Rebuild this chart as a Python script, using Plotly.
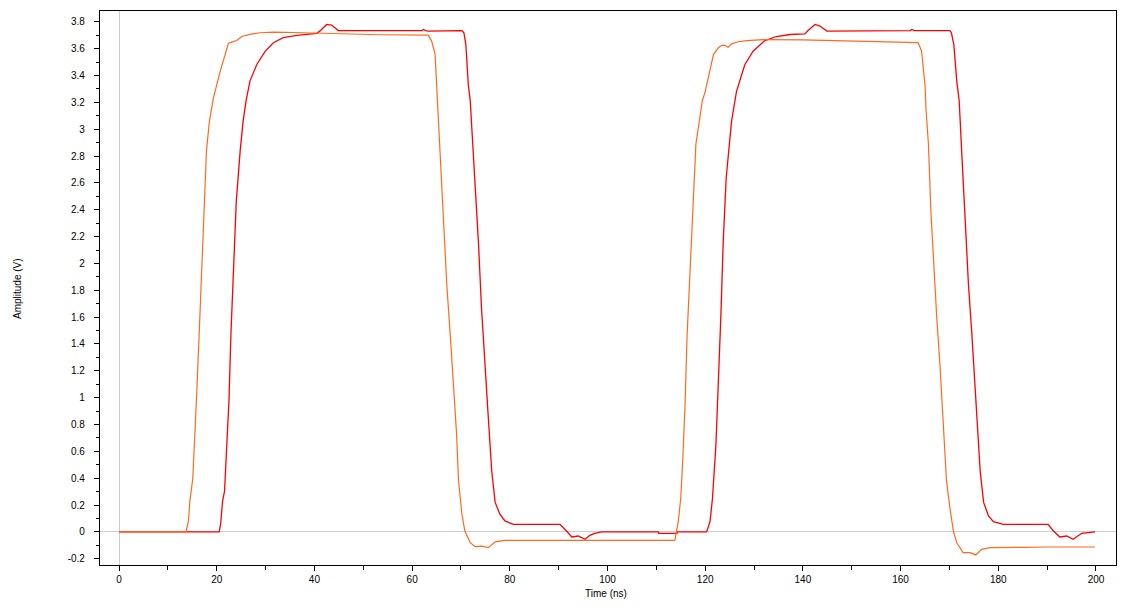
import plotly.graph_objects as go

# Orange trace (leading signal)
orange_t = [0, 13.7, 14.2, 14.5, 15.1, 15.6, 15.9, 16.4, 16.8, 17.3, 17.9, 18.5, 19.3, 20.7, 21.7, 22.4,
            23.2, 24.1, 25.1, 26.8, 28.9, 31.6, 35.7, 40.0, 45.0, 53.4, 63.3, 64.0, 64.7, 65.2, 65.7,
            66.4, 67.1, 67.8, 68.4, 69.1, 69.5, 70.2, 70.8, 71.9, 72.9, 74.2, 75.6, 77.0, 79.0,
            113.8, 114.5, 115.0, 115.4, 115.9, 116.3, 116.9, 117.4, 118.1, 118.8, 119.4, 120.0, 121.0,
            121.7, 122.7, 123.4, 124.0, 124.7, 125.4, 126.8, 128.5, 131.9, 140.0, 151.3, 159.5, 163.6,
            164.3, 165.0, 165.2, 165.7, 166.2, 166.8, 167.4, 168.1, 168.7, 169.4, 170.1, 170.8, 171.5,
            172.8, 174.2, 175.4, 176.6, 178.3, 185.0, 190.0, 199.8]
orange_v = [0, 0, 0.08, 0.23, 0.40, 0.73, 1.03, 1.47, 1.84, 2.34, 2.84, 3.06, 3.23, 3.43, 3.56, 3.64,
            3.65, 3.66, 3.69, 3.706, 3.718, 3.723, 3.72, 3.715, 3.713, 3.703, 3.70, 3.656, 3.557, 3.21, 2.89,
            2.34, 1.84, 1.47, 1.10, 0.73, 0.38, 0.13, 0.007, -0.08, -0.109, -0.105, -0.117, -0.074, -0.062,
            -0.062, 0.08, 0.255, 0.53, 0.975, 1.47, 1.92, 2.34, 2.89, 3.06, 3.21, 3.28, 3.43,
            3.557, 3.606, 3.624, 3.625, 3.61, 3.635, 3.651, 3.66, 3.667, 3.665, 3.656, 3.644, 3.644,
            3.58, 3.33, 3.15, 2.89, 2.39, 1.97, 1.60, 1.22, 0.85, 0.38, 0.18, 0.007, -0.08,
            -0.154, -0.154, -0.171, -0.129, -0.117, -0.115, -0.112, -0.112]

# Red trace (lagging signal)
red_t = [0, 20.5, 20.8, 21.0, 21.2, 21.6, 22.0, 22.5, 22.9, 23.4, 24.0, 24.8, 25.4, 26.0, 26.8, 28.2,
         29.9, 31.6, 33.6, 36.4, 40.5, 41.1, 42.1, 42.5, 43.5, 44.6, 44.9, 62.0, 62.3, 62.8, 63.3, 70.2,
         70.6, 71.0, 71.5, 71.9, 72.7, 73.6, 74.2, 74.9, 75.6, 76.3, 77.0, 78.0, 79.0, 80.7, 90.3,
         91.6, 92.7, 94.0, 95.4, 96.4, 97.4, 98.8, 110.4, 110.5, 114.2, 114.3, 120.3, 121.0, 121.5,
         122.2, 122.7, 123.2, 123.7, 124.3, 125.4, 126.0, 126.4, 128.1, 129.8, 132.2, 134.6, 137.4,
         140.4, 141.1, 142.1, 142.5, 143.5, 144.9, 162.0, 162.3, 162.8, 170.1, 170.4, 170.9, 171.5,
         172.0, 172.5, 173.2, 173.9, 174.6, 175.2, 175.9, 176.3, 177.0, 178.0, 179.0, 181.0, 190.2,
         191.3, 192.6, 194.0, 195.3, 196.4, 197.1, 199.8]
red_v = [0, 0, 0.06, 0.13, 0.23, 0.305, 0.58, 0.975, 1.47, 1.97, 2.46, 2.84, 3.06, 3.21, 3.358, 3.482,
         3.58, 3.644, 3.681, 3.699, 3.714, 3.73, 3.765, 3.78, 3.775, 3.743, 3.734, 3.734, 3.743, 3.734, 3.73, 3.734,
         3.718, 3.63, 3.33, 3.21, 2.71, 2.14, 1.67, 1.22, 0.85, 0.45, 0.22, 0.13, 0.082, 0.057, 0.057,
         0.007, -0.037, -0.03, -0.054, -0.025, -0.01, 0.0, 0.0, -0.01, -0.01, 0.0, 0.0, 0.08, 0.255,
         0.655, 1.10, 1.60, 2.17, 2.64, 3.06, 3.21, 3.28, 3.48, 3.58, 3.66, 3.69, 3.705,
         3.71, 3.736, 3.77, 3.78, 3.768, 3.73, 3.734, 3.743, 3.734, 3.734, 3.718, 3.63, 3.358,
         3.21, 2.84, 2.34, 1.84, 1.47, 1.10, 0.73, 0.45, 0.22, 0.119, 0.077, 0.057, 0.057,
         0.007, -0.037, -0.03, -0.054, -0.03, -0.01, 0.0]

x_ticks = [0, 20, 40, 60, 80, 100, 120, 140, 160, 180, 200]
x_labels = ["0", "20", "40", "60", "80", "100", "120", "140", "160", "180", "200"]
y_ticks = [-0.2, 0, 0.2, 0.4, 0.6, 0.8, 1, 1.2, 1.4, 1.6, 1.8, 2, 2.2, 2.4, 2.6, 2.8, 3, 3.2, 3.4, 3.6, 3.8]
y_labels = ["-0.2", "0", "0.2", "0.4", "0.6", "0.8", "1", "1.2", "1.4", "1.6", "1.8", "2", "2.2", "2.4",
            "2.6", "2.8", "3", "3.2", "3.4", "3.6", "3.8"]
x_title = "Time (ns)"
y_title = "Amplitude (V)"

FONT = "Liberation Sans, Arial, sans-serif"

fig = go.Figure()
fig.add_trace(go.Scatter(x=red_t, y=red_v, mode="lines", line=dict(color="#ff0000", width=1.3),
                         showlegend=False))
fig.add_trace(go.Scatter(x=orange_t, y=orange_v, mode="lines", line=dict(color="#ff6a1f", width=1.2),
                         showlegend=False))

axis_common = dict(
    showline=True, linecolor="black", linewidth=1.2, mirror=True, automargin=False,
    showgrid=False, zeroline=True, zerolinecolor="#cccccc", zerolinewidth=1,
    ticks="outside", ticklen=5, tickwidth=1, tickcolor="black",
    tickfont=dict(family=FONT, size=10, color="black"),
)

# The page body adds an 8px offset, so the figure is sized to fit inside it.
fig.update_layout(
    width=1111, height=598,
    margin=dict(l=92, r=3, t=3, b=41),
    paper_bgcolor="white", plot_bgcolor="white",
    font=dict(family=FONT, size=10, color="black"),
    xaxis=dict(range=[-3.9, 204.1], tickvals=x_ticks, ticktext=x_labels,
               minor=dict(dtick=10, tick0=0, ticks="outside", ticklen=4, tickcolor="black"),
               **axis_common),
    yaxis=dict(range=[-0.246, 3.88], tickvals=y_ticks, ticktext=y_labels,
               minor=dict(dtick=0.1, tick0=0, ticks="outside", ticklen=3, tickcolor="black"),
               ticklabelstandoff=7,
               **axis_common),
    annotations=[
        dict(text=x_title, xref="paper", yref="paper", x=0.4985, y=-0.0523,
             xanchor="center", yanchor="middle", showarrow=False, font=dict(family=FONT, size=10)),
        dict(text=y_title, xref="paper", yref="paper", x=-0.0817, y=0.5,
             xanchor="center", yanchor="middle", textangle=-90, showarrow=False,
             font=dict(family=FONT, size=10)),
    ],
)

fig.write_html("out.html")
